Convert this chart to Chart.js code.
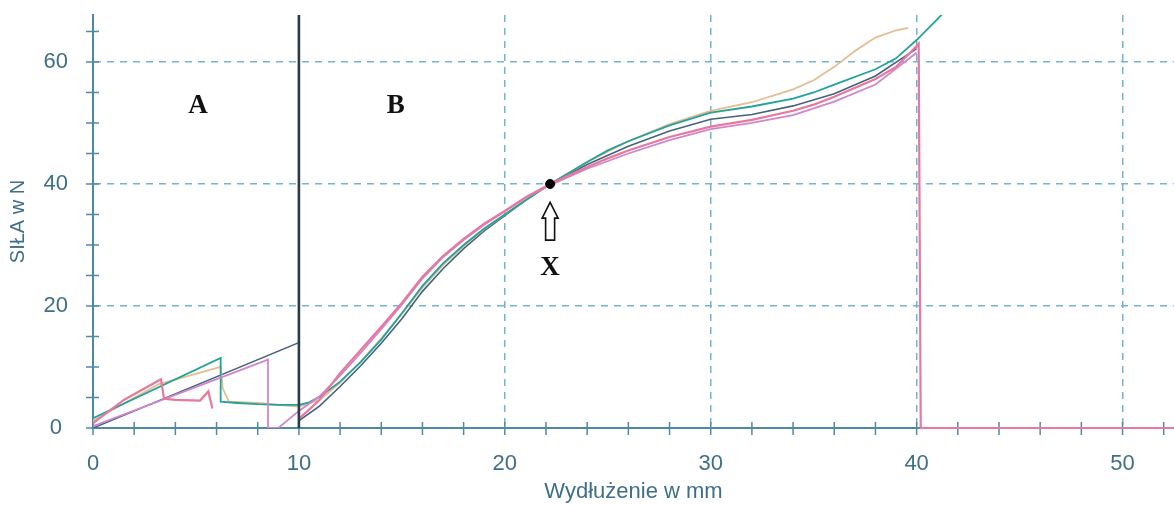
<!DOCTYPE html>
<html><head><meta charset="utf-8">
<script src="https://cdn.jsdelivr.net/npm/chart.js@4.4.1/dist/chart.umd.min.js"></script>
<style>html,body{margin:0;padding:0;background:#fff}#wrap{width:1174px;height:505px}</style>
</head><body><div id="wrap"><canvas id="c" width="1174" height="505"></canvas></div>
<script>
// ---- axis ranges / tick labels ----
const X_MIN = 0, X_MAX = 52.5, Y_MIN = 0, Y_MAX = 67.7;
const xTickStep = 2, yTickStep = 5;
const xLabelEvery = 10, yLabelEvery = 20;
const xAxisTitle = 'Wydłużenie w mm';
const yAxisTitle = 'SIŁA w N';

// ---- series (x in mm, y in N) ----
const tealX = [0,6.2,6.2,7,8,9,10,10.5,11,12,13,14,15,16,17,18,19,20,21,22.2,24,25,26,28,30,32,34,35,36,38,39,40,41,42];
const tealY = [1.6,11.5,4.3,4.1,3.9,3.8,3.8,4.2,5.1,7.6,10.8,14.5,18.8,23.3,27,30,32.7,35,37.3,40,43.6,45.5,47,49.6,51.7,52.7,54,55,56.3,58.8,60.6,63.6,67,70.5];

const slateX = [0,10,10,11,12,13,14,15,16,17,18,19,20,21,22.2,24,26,28,30,32,34,36,38,40];
const slateY = [0,14,1.2,3.6,6.8,10.2,13.9,17.9,22.4,26.1,29.4,32.3,34.8,37.3,40,43.2,46.2,48.7,50.6,51.4,52.8,54.8,57.7,62.2];

const tanX = [0,3.2,6.2,6.3,6.6,8,10,11,12,13,14,15,16,17,18,19,20,21,22.2,24,26,28,30,32,34,35,36,37,38,39,39.6];
const tanY = [1.2,7.2,10,6.5,4.3,4.1,3.5,4.6,7.4,10.9,14.7,18.7,23,26.7,29.8,32.6,35,37.4,40,43.6,47,49.8,52,53.4,55.5,57,59.2,61.8,64,65.2,65.6];

const pinkX = [0,1.5,3.3,3.45,4,5.2,5.6,5.8,5.9,10,11,12,13,14,15,16,17,18,19,20,21,22.2,24,25,26,28,30,32,34,35,36,38,39,40,40.1,40.2,52.5];
const pinkY = [0.8,4.6,8,4.8,4.6,4.5,6,3.2,null,1.5,4.6,9,12.8,16.6,20.5,24.8,28.2,31,33.5,35.6,37.8,40,42.8,44.2,45.5,47.7,49.4,50.5,52,53,54.3,57.2,59.2,62.6,63,0,0];

const magentaX = [0,8.5,8.5,9,10,11,12,13,14,15,16,17,18,19,20,21,22.2,24,26,28,30,32,34,36,38,40];
const magentaY = [0.3,11.2,0,0,2.8,5.2,8.6,12.3,16.2,20.2,24.5,28,30.8,33.3,35.5,37.7,39.8,42.5,45,47.2,49,50,51.3,53.5,56.3,61.5];

// boundary between zones A and B
const boundaryX = [10,10];
const boundaryY = [Y_MIN, Y_MAX];

// marked point X
const dotX = [22.2];
const dotY = [40];

// text annotations (data coordinates)
const annLabels = ['A','B','X'];
const annX = [5.1, 14.7, 22.2];
const annY = [52.8, 52.8, 26.2];
// arrow under point X: tip, head base, shaft bottom (N)
const arrowX = 22.2, arrowTipY = 37.0, arrowHeadY = 34.4, arrowBaseY = 30.8;

const mk = (xs, ys) => xs.map((x, i) => ({x: x, y: ys[i]}));
const line = (label, xs, ys, color, order, w) => ({
  label, data: mk(xs, ys), showLine: true, borderColor: color, backgroundColor: color,
  borderWidth: w || 1.8, pointRadius: 0, tension: 0, spanGaps: false, order
});

const AXIS = '#4f8aa5';
const TXT = '#3f6f88';
const GRID = '#72b3d6';

const crossTicks = {
  id: 'crossTicks',
  beforeDatasetsDraw(chart) {
    const ctx = chart.ctx, xs = chart.scales.x, ys = chart.scales.y;
    ctx.save();
    ctx.strokeStyle = AXIS; ctx.lineWidth = 1.5;
    xs.ticks.forEach(t => {
      const p = xs.getPixelForValue(t.value);
      ctx.beginPath(); ctx.moveTo(p, ys.bottom - 6); ctx.lineTo(p, ys.bottom + 7); ctx.stroke();
    });
    ys.ticks.forEach(t => {
      const p = ys.getPixelForValue(t.value);
      ctx.beginPath(); ctx.moveTo(xs.left - 7, p); ctx.lineTo(xs.left + 6, p); ctx.stroke();
    });
    ctx.restore();
  }
};

const annotations = {
  id: 'annotations',
  afterDatasetsDraw(chart) {
    const ctx = chart.ctx, xs = chart.scales.x, ys = chart.scales.y;
    ctx.save();
    ctx.fillStyle = '#111';
    ctx.font = 'bold 27px "Liberation Serif", "DejaVu Serif", serif';
    ctx.textAlign = 'center'; ctx.textBaseline = 'middle';
    annLabels.forEach((t, i) => ctx.fillText(t, xs.getPixelForValue(annX[i]), ys.getPixelForValue(annY[i])));
    // hollow arrow
    const cx = xs.getPixelForValue(arrowX);
    const ty = ys.getPixelForValue(arrowTipY), hy = ys.getPixelForValue(arrowHeadY), by = ys.getPixelForValue(arrowBaseY);
    ctx.beginPath();
    ctx.moveTo(cx, ty);
    ctx.lineTo(cx + 8, hy); ctx.lineTo(cx + 4.5, hy); ctx.lineTo(cx + 4.5, by);
    ctx.lineTo(cx - 4.5, by); ctx.lineTo(cx - 4.5, hy); ctx.lineTo(cx - 8, hy);
    ctx.closePath();
    ctx.fillStyle = '#fff'; ctx.fill();
    ctx.strokeStyle = '#111'; ctx.lineWidth = 1.6; ctx.stroke();
    ctx.restore();
  }
};

const pinkSet = line('próbka 1', pinkX, pinkY, '#e8789c', 2, 2.2);
pinkSet.clip = {left: 0, top: 0, right: 0, bottom: 3};

new Chart(document.getElementById('c'), {
  type: 'scatter',
  data: {
    datasets: [
      {label: 'X', data: mk(dotX, dotY), showLine: false, pointRadius: 4.5, pointHoverRadius: 4.5, pointBackgroundColor: '#000', pointBorderColor: '#000', order: 0},
      line('granica', boundaryX, boundaryY, '#2b3a4a', 1, 2.6),
      pinkSet,
      line('próbka 2', magentaX, magentaY, '#cf86cf', 3),
      line('próbka 3', tealX, tealY, '#22a39a', 4),
      line('próbka 4', tanX, tanY, '#e6bc90', 5),
      line('próbka 5', slateX, slateY, '#45627f', 6, 1.6)
    ]
  },
  options: {
    responsive: false, animation: false, devicePixelRatio: 1,
    layout: {autoPadding: false, padding: {top: 15, left: 0, right: 0, bottom: 0}},
    plugins: {legend: {display: false}, tooltip: {enabled: false}},
    scales: {
      x: {
        type: 'linear', min: X_MIN, max: X_MAX,
        afterFit: s => { s.height = 77; s.paddingLeft = 0; s.paddingRight = 0; },
        ticks: {
          stepSize: xTickStep, autoSkip: false, maxRotation: 0, includeBounds: false,
          callback: v => (v % xLabelEvery === 0 ? String(v) : ''),
          font: {family: 'Liberation Sans, Arial, sans-serif', size: 22}, color: TXT, padding: 23
        },
        grid: {
          drawTicks: false, lineWidth: 1.5,
          color: c => (c.tick && c.tick.value % xLabelEvery === 0 && c.tick.value !== 0 && c.tick.value !== 10) ? GRID : 'rgba(0,0,0,0)'
        },
        border: {display: true, color: AXIS, width: 2, dash: [7, 6]},
        title: {display: true, text: xAxisTitle, color: TXT, font: {family: 'Liberation Sans, Arial, sans-serif', size: 22}, padding: {top: 0, bottom: 0}}
      },
      y: {
        type: 'linear', min: Y_MIN, max: Y_MAX,
        afterFit: s => { s.width = 93; s.paddingTop = 0; s.paddingBottom = 0; },
        ticks: {
          stepSize: yTickStep, autoSkip: false, includeBounds: false, crossAlign: 'center',
          callback: v => (v % yLabelEvery === 0 ? String(v) : ''),
          font: {family: 'Liberation Sans, Arial, sans-serif', size: 22}, color: TXT, padding: 25
        },
        grid: {
          drawTicks: false, lineWidth: 1.5,
          color: c => (c.tick && c.tick.value % yLabelEvery === 0 && c.tick.value !== 0) ? GRID : 'rgba(0,0,0,0)'
        },
        border: {display: true, color: AXIS, width: 2, dash: [7, 6]},
        title: {display: true, text: yAxisTitle, color: TXT, font: {family: 'Liberation Sans, Arial, sans-serif', size: 20}, padding: {top: 6, bottom: 0}}
      }
    }
  },
  plugins: [crossTicks, annotations]
});
</script>
</body></html>
